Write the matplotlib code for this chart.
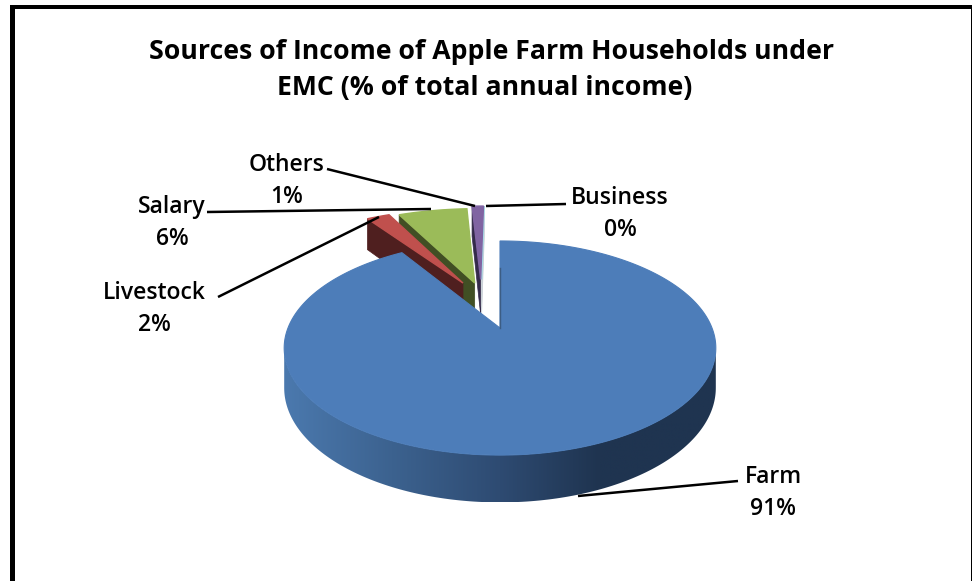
import numpy as np
import matplotlib
matplotlib.use('Agg')
import matplotlib.pyplot as plt
from matplotlib.colors import LinearSegmentedColormap
from matplotlib.patches import Polygon

title_lines = ['Sources of Income of Apple Farm Households under',
               'EMC (% of total annual income)']
sources = ['Farm', 'Livestock', 'Salary', 'Others', 'Business']
shares = [91, 2, 6, 1, 0]

top_colors = ['#4d7db9', '#c0504d', '#9bbb59', '#8064a2', '#a5dbe8']
cut_colors = ['#3b6390', '#4f1f1f', '#414f24', '#342a4a', '#c4ccd2']

# exploded slices are pushed out on the pie's own disc, (across, away)
explode_x = [0, -0.19, -0.13, -0.10, -0.095]
explode_y = [0, 0.474, 0.474, 0.515, 0.515]
EXPLODED_STRETCH = 1.1

label_pos = [(773, 491), (154, 307), (172, 221), (287, 179), (620, 212)]
leaders = [
    ((578, 496), (738, 481)),
    ((218, 297), (379, 217)),
    ((207, 212), (431, 209)),
    ((327, 169), (475, 206)),
    ((486, 206), (566, 204)),
]

CX, CY = 500, 328
RX, RY = 212, 103.3
PERSP = 0.187
DEPTH = 38.5


def project(u, v):
    den = 1 + PERSP * v
    return CX + RX * u / den, CY - RY * v / den


def drop(v):
    return DEPTH / (1 + PERSP * v)


def rim(start, stop, dx=0, dy=0, stretch=1):
    theta = np.linspace(start, stop, max(int(abs(stop - start) * 60), 2))
    return stretch * np.sin(theta) + dx, np.cos(theta) + dy


def extrude(u, v):
    x, y = project(u, v)
    return np.r_[x, x[::-1]], np.r_[y, (y + drop(v))[::-1]]


fig = plt.figure(figsize=(9.72, 5.81), dpi=100)
ax = fig.add_axes([0, 0, 1, 1])
ax.set_xlim(0, 972)
ax.set_ylim(581, 0)
ax.axis('off')

# frame around the chart area
ax.add_patch(plt.Rectangle((10, 5), 5, 576, color='black', lw=0))
ax.add_patch(plt.Rectangle((10, 5), 962, 4, color='black', lw=0))
ax.add_patch(plt.Rectangle((971, 5), 1, 576, color='black', lw=0))

bounds = np.deg2rad(np.cumsum([0] + shares) * 3.6)

# back slices right to left, the livestock slice ends up over the salary one
for z, i in enumerate([4, 3, 2, 1]):
    a0, a1 = bounds[i], bounds[i + 1]
    dx, dy = explode_x[i], explode_y[i]

    # left cut face of the slice
    u = np.array([dx, EXPLODED_STRETCH * np.sin(a0) + dx])
    v = np.array([dy, np.cos(a0) + dy])
    x, y = extrude(u, v)
    ax.add_patch(Polygon(np.c_[x, y], fc=cut_colors[i], ec=cut_colors[i], lw=0.5, zorder=2 + 2 * z))

    # top face
    u, v = rim(a0, a1, dx, dy, EXPLODED_STRETCH)
    x, y = project(np.r_[dx, u], np.r_[dy, v])
    ax.add_patch(Polygon(np.c_[x, y], fc=top_colors[i], ec=top_colors[i], lw=1.0, zorder=3 + 2 * z))

# outer wall of the farm slice, shaded from left to right
wall_start = np.arccos(-PERSP)
u, v = rim(wall_start, 2 * np.pi - wall_start)
x, y = extrude(u, v)
shade = LinearSegmentedColormap.from_list(
    'wall', [(0, '#4b79ae'), (0.25, '#3c628f'), (0.5, '#2e4b72'), (0.73, '#1f3450'), (1, '#1f3450')])
grad = ax.imshow(np.linspace(0, 1, 256)[None, :], cmap=shade, aspect='auto',
                 extent=[x.min(), x.max(), y.max(), y.min()], zorder=12)
wall = Polygon(np.c_[x, y], fc='none', ec='none', transform=ax.transData)
ax.add_patch(wall)
grad.set_clip_path(wall)
ax.set_xlim(0, 972)
ax.set_ylim(581, 0)

# farm top face
u, v = rim(bounds[0], bounds[1])
x, y = project(np.r_[0, u], np.r_[0, v])
ax.add_patch(Polygon(np.c_[x, y], fc=top_colors[0], ec=top_colors[0], lw=0.8, zorder=13))
edge_x, edge_y = project(np.array([0, 0]), np.array([0, 0.65]))
ax.plot(edge_x - 0.5, edge_y, color='#35506e', lw=1, alpha=0.7, zorder=14)

# leader lines and data labels
for (start, end) in leaders:
    ax.plot([start[0], end[0]], [start[1], end[1]], color='black', lw=1.8,
            solid_capstyle='butt', zorder=15)
for name, share, (lx, ly) in zip(sources, shares, label_pos):
    ax.text(lx, ly - 14, name, ha='center', va='center', family='Open Sans',
            fontsize=16.5, fontweight='semibold', color='black', zorder=16)
    ax.text(lx, ly + 18, '%d%%' % share, ha='center', va='center', family='Open Sans',
            fontsize=16.5, fontweight='semibold', color='black', zorder=16)

ax.text(491.5, 52, title_lines[0], ha='center', va='center', family='Open Sans',
        fontsize=19.2, fontweight='bold', color='black', zorder=16)
ax.text(485, 88, title_lines[1], ha='center', va='center', family='Open Sans',
        fontsize=19.2, fontweight='bold', color='black', zorder=16)

fig.savefig('out.png', dpi=100)
